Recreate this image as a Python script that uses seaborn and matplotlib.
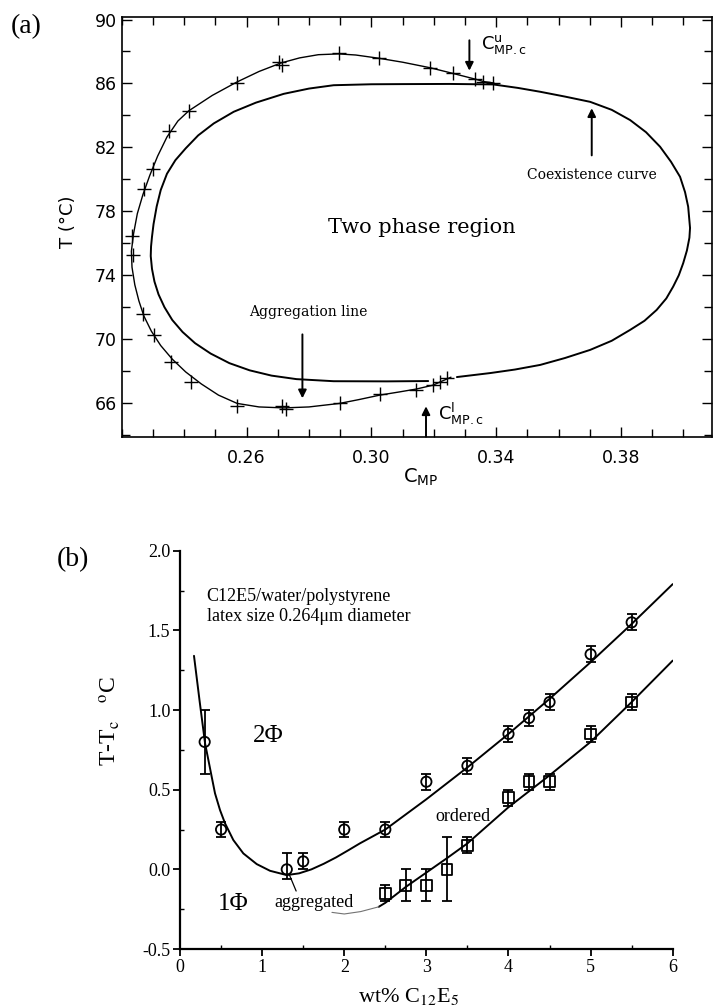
import pandas as pd
import matplotlib.pyplot as plt
import matplotlib.ticker as mticker
import seaborn as sns

# -----------------------------------------------------------------------------
# ---------------- panel (a): C_MP vs T phase diagram -------------------------
# measured aggregation points (+), upper and lower branch
AGG_PTS_C = [0.2234, 0.2271, 0.2300, 0.2353, 0.2415, 0.2568, 0.2704, 0.2714,
             0.2895, 0.3023, 0.3189, 0.3263, 0.3333, 0.3359, 0.3389,
             0.2237, 0.2269, 0.2303, 0.2359, 0.2421, 0.2570, 0.2714, 0.2728,
             0.2898, 0.3027, 0.3144, 0.3197, 0.3221, 0.3242]
AGG_PTS_T = [76.46, 79.39, 80.64, 83.02, 84.29, 86.06, 87.35, 87.14,
             87.88, 87.60, 86.98, 86.66, 86.27, 86.10, 86.04,
             75.27, 71.56, 70.25, 68.56, 67.29, 65.85, 65.79, 65.64,
             65.98, 66.56, 66.85, 67.14, 67.35, 67.56]

# aggregation line, traced from the upper merge round to the lower one
AGG_LINE_C = [0.3400, 0.3389, 0.3359, 0.3333, 0.3263, 0.3189, 0.3100, 0.3023,
              0.2950, 0.2895, 0.2830, 0.2770, 0.2710, 0.2640, 0.2568, 0.2490,
              0.2415, 0.2380, 0.2345, 0.2315, 0.2290, 0.2268, 0.2250, 0.2238,
              0.2231, 0.2233, 0.2242, 0.2255, 0.2271, 0.2295, 0.2325, 0.2362,
              0.2405, 0.2455, 0.2510, 0.2570, 0.2640, 0.2720, 0.2800, 0.2898,
              0.2960, 0.3027, 0.3090, 0.3144, 0.3197, 0.3221, 0.3255]
AGG_LINE_T = [85.96, 86.04, 86.12, 86.27, 86.62, 86.98, 87.33, 87.58,
              87.78, 87.85, 87.80, 87.60, 87.28, 86.75, 86.08, 85.25,
              84.29, 83.65, 82.65, 81.45, 80.25, 79.05, 77.85, 76.60,
              75.50, 74.50, 73.40, 72.40, 71.45, 70.50, 69.60, 68.75,
              67.95, 67.20, 66.50, 65.98, 65.76, 65.70, 65.76, 65.98,
              66.22, 66.50, 66.70, 66.88, 67.12, 67.33, 67.62]

# coexistence curve
COEX_C = [0.3182, 0.3050, 0.2879, 0.2760, 0.2680, 0.2610, 0.2545, 0.2485,
          0.2435, 0.2395, 0.2362, 0.2337, 0.2318, 0.2305, 0.2297, 0.2293,
          0.2294, 0.2297, 0.2302, 0.2312, 0.2325, 0.2345, 0.2372, 0.2405,
          0.2445, 0.2495, 0.2559, 0.2630, 0.2719, 0.2800, 0.2879, 0.3000,
          0.3100, 0.3250, 0.3390, 0.3470, 0.3541, 0.3620, 0.3701, 0.3770,
          0.3829, 0.3880, 0.3925, 0.3960, 0.3989, 0.4005, 0.4015, 0.4021,
          0.4019, 0.4011, 0.3999, 0.3985, 0.3967, 0.3945, 0.3914, 0.3875,
          0.3829, 0.3770, 0.3701, 0.3620, 0.3541, 0.3460, 0.3381, 0.3274]
COEX_T = [67.38, 67.36, 67.37, 67.50, 67.72, 68.05, 68.50, 69.10,
          69.75, 70.45, 71.20, 72.00, 72.80, 73.60, 74.40, 75.20,
          75.80, 76.40, 77.20, 78.30, 79.33, 80.35, 81.20, 81.94,
          82.75, 83.50, 84.23, 84.80, 85.35, 85.68, 85.89, 85.95,
          85.96, 85.97, 85.94, 85.72, 85.48, 85.18, 84.85, 84.35,
          83.71, 82.95, 82.04, 81.10, 80.16, 79.20, 78.29, 76.96,
          76.35, 75.55, 74.75, 74.00, 73.29, 72.55, 71.83, 71.15,
          70.58, 69.90, 69.33, 68.82, 68.39, 68.10, 67.88, 67.63]

A_XTICKS = [0.26, 0.30, 0.34, 0.38]
A_YTICKS = [66, 70, 74, 78, 82, 86, 90]

# -----------------------------------------------------------------------------
# ---------------- panel (b): T - Tc vs wt% C12E5 -----------------------------
CIRC_X = [0.3, 0.5, 1.3, 1.5, 2.0, 2.5, 3.0, 3.5, 4.0, 4.25, 4.5, 5.0, 5.5]
CIRC_Y = [0.80, 0.25, 0.00, 0.05, 0.25, 0.25, 0.55, 0.65, 0.85, 0.95, 1.05,
          1.35, 1.55]
CIRC_ERR_LO = [0.20, 0.05, 0.06, 0.05, 0.05, 0.05, 0.05, 0.05, 0.05, 0.05,
               0.05, 0.05, 0.05]
CIRC_ERR_HI = [0.20, 0.05, 0.10, 0.05, 0.05, 0.05, 0.05, 0.05, 0.05, 0.05,
               0.05, 0.05, 0.05]

SQ_X = [2.5, 2.75, 3.0, 3.25, 3.5, 4.0, 4.25, 4.5, 5.0, 5.5]
SQ_Y = [-0.15, -0.10, -0.10, 0.00, 0.15, 0.45, 0.55, 0.55, 0.85, 1.05]
SQ_ERR = [0.05, 0.10, 0.10, 0.20, 0.05, 0.05, 0.05, 0.05, 0.05, 0.05]

UP_CURVE_X = [0.17, 0.24, 0.305, 0.345, 0.386, 0.426, 0.487, 0.548, 0.649,
              0.771, 0.934, 1.096, 1.30, 1.45, 1.60, 1.75, 1.90, 2.05, 2.19,
              2.50, 3.00, 3.50, 4.00, 4.50, 5.00, 5.50, 6.00]
UP_CURVE_Y = [1.34, 1.05, 0.79, 0.687, 0.58, 0.477, 0.372, 0.289, 0.184,
              0.10, 0.033, -0.009, -0.036, -0.025, 0.00, 0.035, 0.075, 0.12,
              0.163, 0.25, 0.44, 0.64, 0.85, 1.07, 1.30, 1.54, 1.79]

LOW_FAINT_X = [1.85, 2.00, 2.20, 2.42]
LOW_FAINT_Y = [-0.27, -0.28, -0.265, -0.235]
LOW_CURVE_X = [2.42, 2.50, 2.75, 3.00, 3.25, 3.50, 4.00, 4.50, 5.00, 5.50,
               6.00]
LOW_CURVE_Y = [-0.235, -0.21, -0.11, -0.02, 0.07, 0.163, 0.39, 0.59, 0.80,
               1.05, 1.31]

B_XTICKS = [0, 1, 2, 3, 4, 5, 6]
B_YTICKS = [-0.5, 0.0, 0.5, 1.0, 1.5, 2.0]

# -----------------------------------------------------------------------------

sns.set_theme(style='ticks')
plt.rcParams.update({'font.family': ['DejaVu Sans'],
                     'axes.edgecolor': 'black',
                     'xtick.color': 'black', 'ytick.color': 'black',
                     'text.color': 'black', 'axes.labelcolor': 'black',
                     'lines.solid_joinstyle': 'round'})

fig = plt.figure(figsize=(7.13, 10.08), dpi=100)
ax_a = fig.add_axes([0.1707, 0.5668, 0.8273, 0.4162])
ax_b = fig.add_axes([0.2525, 0.0585, 0.6910, 0.3952])

SERIF_A = 'DejaVu Serif'
SERIF_B = 'Liberation Serif'

# ------------------------------- panel (a) -----------------------------------
coex = pd.DataFrame({'c': COEX_C, 'T': COEX_T})
agg = pd.DataFrame({'c': AGG_LINE_C, 'T': AGG_LINE_T})
pts = pd.DataFrame({'c': AGG_PTS_C, 'T': AGG_PTS_T})

sns.lineplot(data=coex, x='c', y='T', sort=False, estimator=None,
             color='black', lw=1.4, ax=ax_a)
sns.lineplot(data=agg, x='c', y='T', sort=False, estimator=None,
             color='black', lw=1.0, ax=ax_a)
sns.scatterplot(data=pts, x='c', y='T', marker='+', s=90, color='black',
                linewidth=1.0, ax=ax_a, zorder=3)

ax_a.set_xlim(0.2200, 0.4090)
ax_a.set_ylim(63.9, 90.15)
ax_a.set_xticks(A_XTICKS)
ax_a.set_yticks(A_YTICKS)
ax_a.xaxis.set_major_formatter(mticker.FormatStrFormatter('%.2f'))
ax_a.xaxis.set_minor_locator(mticker.MultipleLocator(0.01))
ax_a.yaxis.set_minor_locator(mticker.MultipleLocator(2))
ax_a.tick_params(which='both', direction='in', top=True, right=True,
                 width=1.0, labelsize=12.5)
ax_a.tick_params(which='major', length=7)
ax_a.tick_params(which='minor', length=6)
ax_a.tick_params(axis='x', pad=9)
for s in ax_a.spines.values():
    s.set_linewidth(1.2)

ax_a.set_xlabel(r'$\mathrm{C}_{\mathrm{MP}}$', fontsize=14,
                math_fontfamily='dejavusans')
ax_a.set_ylabel('T (°C)', fontsize=13)
ax_a.xaxis.set_label_coords(0.506, -0.072)
ax_a.yaxis.set_label_coords(-0.076, 0.512)

ax_a.text(0.316, 76.96, 'Two phase region', family=SERIF_A, fontsize=15,
          ha='center', va='center')
ax_a.text(0.3706, 80.27, 'Coexistence curve', family=SERIF_A, fontsize=10,
          ha='center', va='center')
ax_a.text(0.2799, 71.73, 'Aggregation line', family=SERIF_A, fontsize=10,
          ha='center', va='center')
ax_a.text(0.3352, 88.45, r'$\mathrm{C}^{\mathrm{u}}_{\mathrm{MP.c}}$',
          fontsize=13, ha='left', va='center', math_fontfamily='dejavusans')
ax_a.text(0.3212, 65.30, r'$\mathrm{C}^{\mathrm{l}}_{\mathrm{MP.c}}$',
          fontsize=13, ha='left', va='center', math_fontfamily='dejavusans')

arrow = dict(arrowstyle='-|>', color='black', lw=1.4, mutation_scale=12,
             shrinkA=0, shrinkB=0)
ax_a.annotate('', xy=(0.3314, 86.80), xytext=(0.3314, 88.70),
              arrowprops=arrow)
ax_a.annotate('', xy=(0.3706, 84.45), xytext=(0.3706, 81.50),
              arrowprops=arrow)
ax_a.annotate('', xy=(0.2779, 66.30), xytext=(0.2779, 70.30),
              arrowprops=arrow)
ax_a.annotate('', xy=(0.3175, 65.80), xytext=(0.3175, 63.90),
              arrowprops=arrow)

# ------------------------------- panel (b) -----------------------------------
circ = pd.DataFrame({'x': CIRC_X, 'y': CIRC_Y})
sq = pd.DataFrame({'x': SQ_X, 'y': SQ_Y})

sns.lineplot(x=UP_CURVE_X, y=UP_CURVE_Y, sort=False, estimator=None,
             color='black', lw=1.4, ax=ax_b)
sns.lineplot(x=LOW_CURVE_X, y=LOW_CURVE_Y, sort=False, estimator=None,
             color='black', lw=1.4, ax=ax_b)
sns.lineplot(x=LOW_FAINT_X, y=LOW_FAINT_Y, sort=False, estimator=None,
             color='0.45', lw=0.8, ax=ax_b)

ax_b.errorbar(CIRC_X, CIRC_Y, yerr=[CIRC_ERR_LO, CIRC_ERR_HI], fmt='none',
              ecolor='black', elinewidth=1.3, capsize=3.5, capthick=1.3)
ax_b.errorbar(SQ_X, SQ_Y, yerr=SQ_ERR, fmt='none', ecolor='black',
              elinewidth=1.3, capsize=3.5, capthick=1.3)
sns.scatterplot(data=circ, x='x', y='y', marker='o', s=55,
                facecolors='none', edgecolor='black', linewidth=1.3,
                ax=ax_b, zorder=4)
sns.scatterplot(data=sq, x='x', y='y', marker='s', s=60,
                facecolors='none', edgecolor='black', linewidth=1.3,
                ax=ax_b, zorder=4)

ax_b.set_xlim(0, 6)
ax_b.set_ylim(-0.5, 2.0)
ax_b.set_xticks(B_XTICKS)
ax_b.set_yticks(B_YTICKS)
ax_b.yaxis.set_major_formatter(mticker.FormatStrFormatter('%.1f'))
ax_b.xaxis.set_minor_locator(mticker.MultipleLocator(0.5))
ax_b.yaxis.set_minor_locator(mticker.MultipleLocator(0.25))
sns.despine(ax=ax_b)
for s in ax_b.spines.values():
    s.set_linewidth(1.6)
ax_b.tick_params(which='major', direction='out', length=5, width=1.3,
                 labelsize=13, pad=2)
ax_b.tick_params(which='minor', direction='in', length=3, width=1.0)
for lab in ax_b.get_xticklabels() + ax_b.get_yticklabels():
    lab.set_family(SERIF_B)

ax_b.set_xlabel(r'wt% C$_{\mathrm{12}}$E$_{\mathrm{5}}$', family=SERIF_B,
                fontsize=16, math_fontfamily='stix')
ax_b.set_ylabel(r'T-T$_{\mathrm{c}}$   $^{\mathrm{o}}$C', family=SERIF_B,
                fontsize=17, math_fontfamily='stix')
ax_b.xaxis.set_label_coords(0.463, -0.094)
ax_b.yaxis.set_label_coords(-0.118, 0.572)

ax_b.text(0.325, 1.712, 'C12E5/water/polystyrene', family=SERIF_B,
          fontsize=13, ha='left', va='center')
ax_b.text(0.325, 1.587, 'latex size 0.264\u03bcm diameter', family=SERIF_B,
          fontsize=13, ha='left', va='center')
ax_b.text(1.07, 0.84, '2\u03a6', family=SERIF_B, fontsize=18,
          ha='center', va='center')
ax_b.text(0.65, -0.22, '1\u03a6', family=SERIF_B, fontsize=18,
          ha='center', va='center')
ax_b.text(1.63, -0.205, 'aggregated', family=SERIF_B, fontsize=13,
          ha='center', va='center')
ax_b.text(3.44, 0.33, 'ordered', family=SERIF_B, fontsize=13,
          ha='center', va='center')
ax_b.plot([1.333, 1.414], [-0.036, -0.136], color='black', lw=0.9)

# panel letters
fig.text(26 / 713, 1 - 27 / 1008, '(a)', family=SERIF_B, fontsize=20,
         ha='center', va='center')
fig.text(73 / 713, 1 - 560 / 1008, '(b)', family=SERIF_B, fontsize=20,
         ha='center', va='center')

fig.savefig('out.png', dpi=100, facecolor='white')
